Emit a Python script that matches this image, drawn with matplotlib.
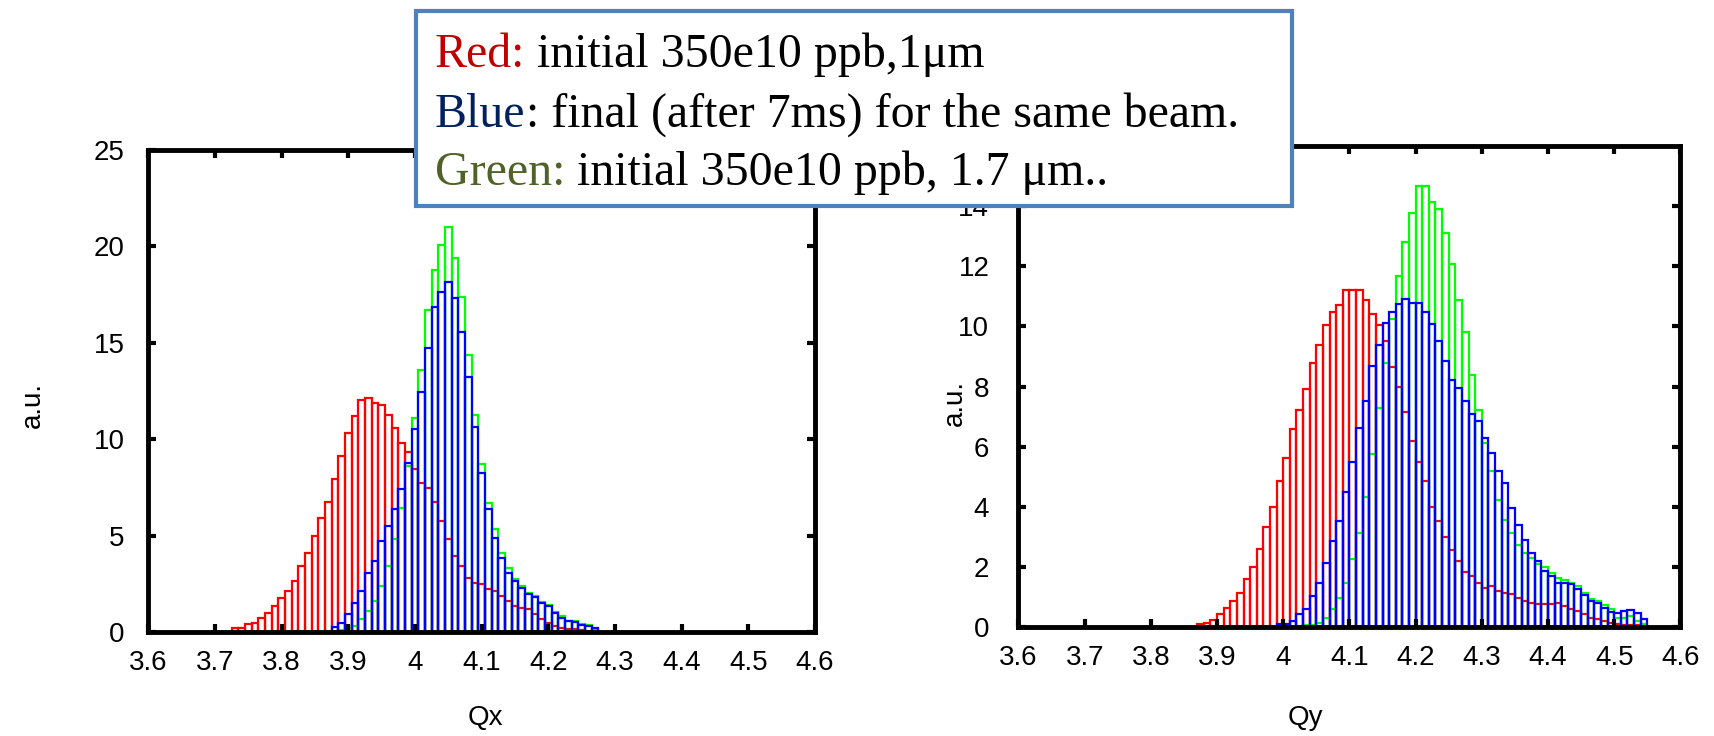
import numpy as np
import matplotlib.pyplot as plt
from matplotlib.patches import Rectangle
from matplotlib.ticker import FuncFormatter, MultipleLocator

# bin width of the tune histograms
dq = 0.01

# ---- Qx histograms (bins centred on multiples of 0.01) ----
qx_red_first = 3.73
qx_red = [0.19, 0.22, 0.40, 0.48, 0.74, 1.00, 1.35, 1.78, 2.13, 2.65,
          3.42, 4.11, 4.98, 5.93, 6.76, 7.92, 9.13, 10.34, 11.20, 12.03,
          12.12, 11.90, 11.77, 11.25, 10.56, 9.78, 9.35, 8.44, 7.75, 7.49,
          6.76, 5.76, 4.81, 3.94, 3.42, 2.82, 2.56, 2.47, 2.21, 2.13,
          1.87, 1.61, 1.35, 1.26, 1.18, 0.92, 0.66, 0.45, 0.30, 0.22,
          0.14, 0.14, 0.10, 0.05]
qx_blue_first = 3.88
qx_blue = [0.24, 0.48, 0.92, 1.52, 2.13, 3.08, 3.68, 4.72, 5.50, 6.36,
           7.40, 8.78, 10.51, 12.47, 14.71, 16.87, 17.65, 18.17, 17.31, 15.58,
           13.24, 10.65, 8.26, 6.36, 4.89, 3.85, 3.08, 2.65, 2.30, 1.95,
           1.83, 1.50, 1.36, 0.97, 0.71, 0.57, 0.50, 0.35, 0.33, 0.20]
qx_green_first = 3.89
qx_green = [0.08, 0.20, 0.31, 0.66, 1.09, 1.61, 2.39, 3.42, 4.81, 6.45,
            8.61, 11.12, 13.59, 16.70, 18.78, 20.07, 20.99, 19.38, 17.39, 14.37,
            11.25, 8.70, 6.71, 5.33, 4.11, 3.34, 2.73, 2.39, 2.04, 1.87,
            1.55, 1.40, 1.04, 0.83, 0.57, 0.57, 0.40, 0.35, 0.15]

# ---- Qy histograms (bins starting on multiples of 0.01) ----
qy_red_first = 3.87
qy_red = [0.09, 0.14, 0.22, 0.42, 0.64, 0.87, 1.14, 1.59, 1.98, 2.59,
          3.31, 3.98, 4.87, 5.62, 6.57, 7.23, 7.93, 8.77, 9.37, 10.03,
          10.48, 10.70, 11.20, 11.20, 11.20, 10.87, 10.42, 10.03, 9.53, 8.64,
          7.98, 7.14, 6.20, 5.48, 4.87, 3.98, 3.53, 2.98, 2.57, 2.18,
          1.84, 1.70, 1.48, 1.31, 1.37, 1.20, 1.14, 1.09, 0.98, 0.87,
          0.81, 0.76, 0.76, 0.76, 0.81, 0.70, 0.59, 0.53, 0.42, 0.31,
          0.26, 0.20, 0.14, 0.10, 0.07, 0.07, 0.07]
qy_blue_first = 3.99
qy_blue = [0.09, 0.09, 0.20, 0.42, 0.59, 1.03, 1.48, 2.14, 2.87, 3.53,
           4.48, 5.48, 6.62, 7.51, 8.68, 9.37, 10.12, 10.48, 10.73, 10.92,
           10.79, 10.79, 10.48, 10.07, 9.51, 8.84, 8.23, 7.96, 7.51, 7.07,
           6.84, 6.29, 5.79, 5.18, 4.79, 3.96, 3.40, 2.90, 2.46, 2.20,
           1.87, 1.70, 1.48, 1.46, 1.42, 1.25, 1.05, 0.88, 0.80, 0.63,
           0.50, 0.47, 0.52, 0.58, 0.47, 0.25]
qy_green_first = 4.03
qy_green = [0.05, 0.08, 0.14, 0.31, 0.59, 0.98, 1.48, 2.26, 3.14, 4.31,
            5.76, 7.29, 8.79, 10.23, 11.68, 12.81, 13.76, 14.68, 14.68, 14.14,
            13.92, 13.09, 12.09, 10.87, 9.82, 8.38, 7.23, 6.12, 5.18, 4.23,
            3.57, 3.12, 2.73, 2.46, 2.29, 2.09, 1.98, 1.81, 1.64, 1.57,
            1.48, 1.37, 1.14, 0.92, 0.85, 0.72, 0.59, 0.31, 0.31, 0.37,
            0.20, 0.09]

legend_lines = [
    ("Red:", " initial 350e10 ppb,1\u03bcm", "#C00000"),
    ("Blue", ": final (after 7ms) for the same beam.", "#002060"),
    ("Green:", " initial 350e10 ppb, 1.7 \u03bcm..", "#4F6228"),
]

plt.rcParams["font.family"] = ["Liberation Sans", "DejaVu Sans"]

fig = plt.figure(figsize=(17.14, 7.36), dpi=100)
ax1 = fig.add_axes([0.0865, 0.1413, 0.389, 0.6549])
ax2 = fig.add_axes([0.5942, 0.1481, 0.3862, 0.6535])


def hist(ax, first, heights, color, align):
    x = first + dq * np.arange(len(heights))
    ax.bar(x, heights, width=dq, align=align, fill=False,
           edgecolor=color, linewidth=1.6, joinstyle="miter")


hist(ax1, qx_red_first, qx_red, "#FF0000", "center")
hist(ax1, qx_green_first, qx_green, "#00FF00", "center")
hist(ax1, qx_blue_first, qx_blue, "#0000FF", "center")

hist(ax2, qy_red_first, qy_red, "#FF0000", "edge")
hist(ax2, qy_green_first, qy_green, "#00FF00", "edge")
hist(ax2, qy_blue_first, qy_blue, "#0000FF", "edge")

fmt = FuncFormatter(lambda v, p: "%g" % round(v, 2))
for ax, ymax, ystep, ylast, ypad in [(ax1, 25, 5, 25, 17), (ax2, 16, 2, 14, 21)]:
    ax.set_xlim(3.6, 4.6)
    ax.set_ylim(0, ymax)
    ax.xaxis.set_major_locator(MultipleLocator(0.1))
    ax.set_yticks(np.arange(0, ylast + 1, ystep))
    ax.xaxis.set_major_formatter(fmt)
    ax.tick_params(direction="in", length=6, width=3, top=True, right=True,
                   labelsize=20, color="black")
    ax.tick_params(axis="x", pad=13)
    ax.tick_params(axis="y", pad=ypad)
    for sp in ax.spines.values():
        sp.set_linewidth(3.5)
        sp.set_zorder(5)
    ax.set_ylabel("a.u.", fontsize=20)

ax1.set_xlabel("Qx", fontsize=20)
ax2.set_xlabel("Qy", fontsize=20)
ax1.yaxis.set_label_coords(-0.153, 0.47)
ax2.yaxis.set_label_coords(-0.076, 0.465)
ax1.xaxis.set_label_coords(0.505, -0.151)
ax2.xaxis.set_label_coords(0.433, -0.162)

# annotation box over the top of both panels
box = Rectangle((0.2427, 0.7201), 0.5111, 0.265, transform=fig.transFigure,
                facecolor="white", edgecolor="#4F81BD", linewidth=3, zorder=10)
fig.add_artist(box)

renderer = fig.canvas.get_renderer()
x0 = 0.2538
baselines = [0.909, 0.8274, 0.7486]
for (head, rest, col), yb in zip(legend_lines, baselines):
    t = fig.text(x0, yb, head, color=col, fontsize=34.5, va="baseline",
                 family=["Liberation Serif", "DejaVu Serif"], zorder=11)
    w = t.get_window_extent(renderer).width / fig.bbox.width
    fig.text(x0 + w, yb, rest, color="black", fontsize=34.5, va="baseline",
             family=["Liberation Serif", "DejaVu Serif"], zorder=11)

plt.savefig("out.png", dpi=100)
